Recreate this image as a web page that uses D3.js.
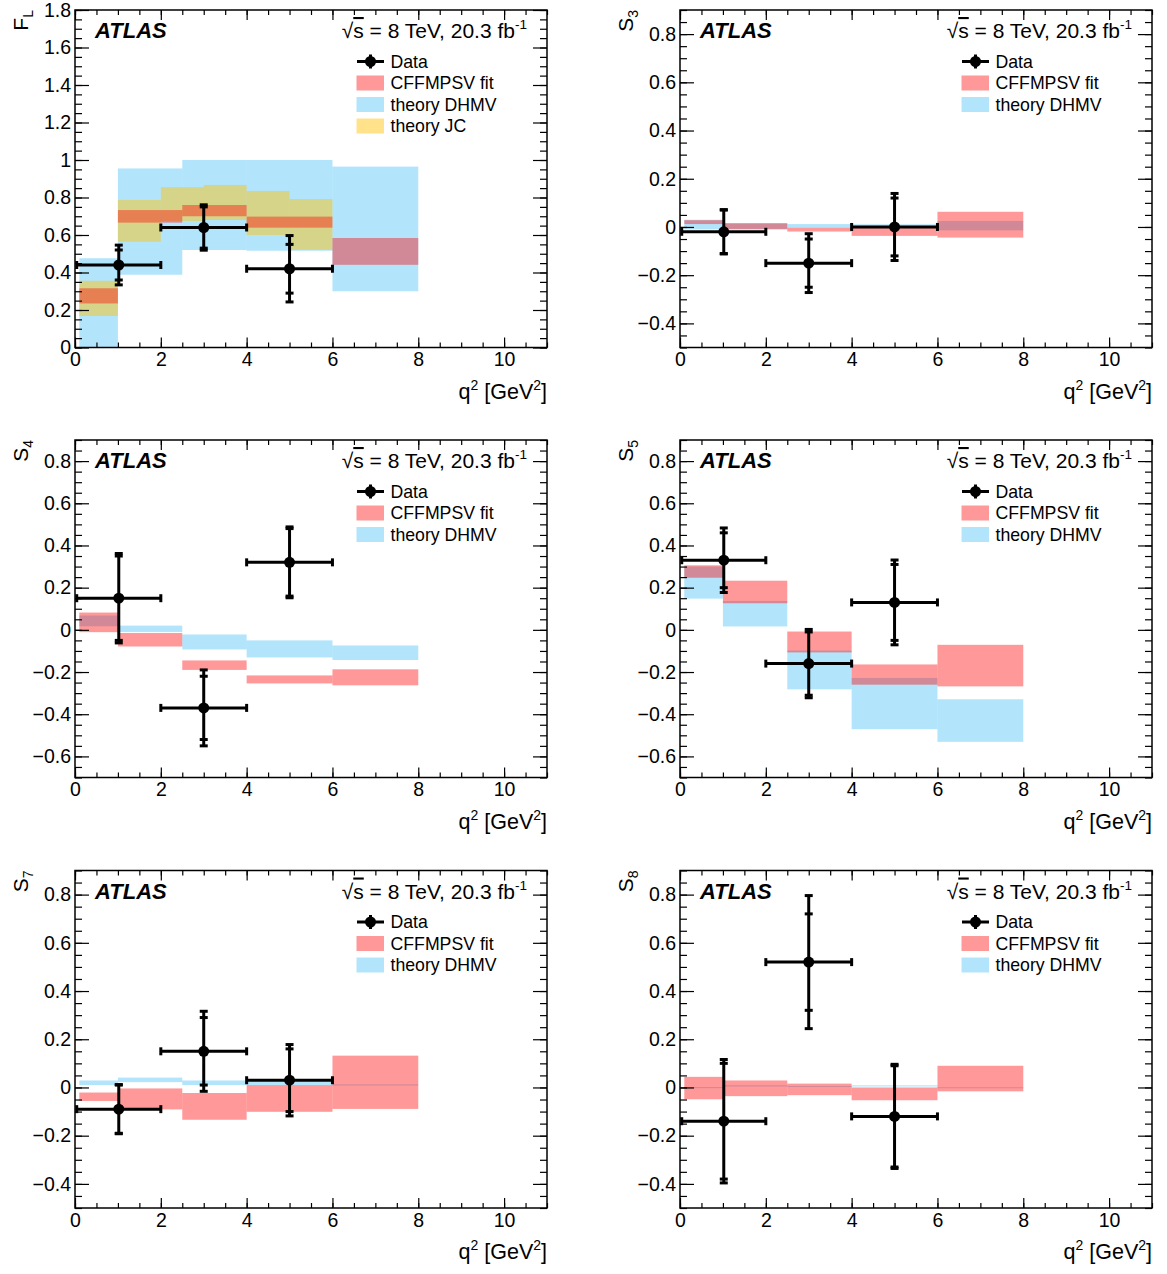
<!DOCTYPE html>
<html>
<head>
<meta charset="utf-8">
<script src="https://cdn.jsdelivr.net/npm/d3@7"></script>
<style>
  body { margin: 0; background: #fff; }
  text { font-family: "Liberation Sans", Arial, Helvetica, sans-serif; }
</style>
</head>
<body>
<svg id="chart" width="1167" height="1274"></svg>
<script>
// q2 binning
var theoryBins = [[0.1, 1], [1, 2.5], [2.5, 4], [4, 6], [6, 8]];
var jcBins = [[0.1, 1], [1, 2], [2, 3], [3, 4], [4, 5], [5, 6]];
var dataBins = [[0.04, 2], [2, 4], [4, 6]];
var dataX = [1.02, 3, 5];

// F_L
var flVal = [0.44, 0.64, 0.42];
var flStat = [0.08, 0.11, 0.13];
var flTot = [0.106, 0.121, 0.177];
var flCff = [[0.235, 0.316], [0.666, 0.733], [0.70, 0.76], [0.639, 0.698], [0.441, 0.584]];
var flDhmv = [[0, 0.476], [0.388, 0.955], [0.52, 1.0], [0.516, 1.0], [0.30, 0.965]];
var flJc = [[0.168, 0.356], [0.564, 0.787], [0.675, 0.855], [0.68, 0.867], [0.60, 0.835], [0.521, 0.792]];

// S3
var s3Val = [-0.02, -0.15, 0.00];
var s3Stat = [0.09, 0.10, 0.12];
var s3Tot = [0.092, 0.122, 0.139];
var s3Cff = [[0.012, 0.028], [-0.01, 0.016], [-0.019, -0.003], [-0.037, -0.004], [-0.044, 0.063]];
var s3Dhmv = [[-0.01, 0.03], [-0.008, 0.014], [-0.003, 0.012], [-0.004, 0.011], [-0.014, 0.025]];

// S4
var s4Val = [0.15, -0.37, 0.32];
var s4Stat = [0.20, 0.15, 0.16];
var s4Tot = [0.212, 0.18, 0.168];
var s4Cff = [[-0.011, 0.082], [-0.079, -0.015], [-0.19, -0.145], [-0.254, -0.216], [-0.263, -0.187]];
var s4Dhmv = [[0.017, 0.068], [-0.01, 0.02], [-0.093, -0.022], [-0.131, -0.05], [-0.143, -0.074]];

// S5
var s5Val = [0.33, -0.16, 0.13];
var s5Stat = [0.13, 0.15, 0.18];
var s5Tot = [0.153, 0.162, 0.201];
var s5Cff = [[0.247, 0.306], [0.126, 0.233], [-0.107, -0.008], [-0.26, -0.164], [-0.268, -0.071]];
var s5Dhmv = [[0.148, 0.30], [0.016, 0.137], [-0.282, -0.098], [-0.471, -0.228], [-0.531, -0.329]];

// S7
var s7Val = [-0.09, 0.15, 0.03];
var s7Stat = [0.10, 0.14, 0.13];
var s7Tot = [0.102, 0.166, 0.148];
var s7Cff = [[-0.056, -0.021], [-0.091, -0.004], [-0.134, -0.023], [-0.101, 0.01], [-0.089, 0.132]];
var s7Dhmv = [[0.01, 0.029], [0.022, 0.041], [0.01, 0.029], [0.01, 0.029], [0.008, 0.013]];

// S8
var s8Val = [-0.14, 0.52, -0.12];
var s8Stat = [0.24, 0.20, 0.21];
var s8Tot = [0.256, 0.276, 0.216];
var s8Cff = [[-0.049, 0.044], [-0.036, 0.029], [-0.032, 0.016], [-0.053, 0.0], [-0.016, 0.09]];
var s8Dhmv = [[-0.003, 0.002], [0.004, 0.009], [0.002, 0.006], [0.004, 0.009], [-0.003, 0.001]];

var xTicks = [0, 2, 4, 6, 8, 10];

var panels = [
  { name: "F", sub: "L", val: flVal, stat: flStat, tot: flTot, cff: flCff, dhmv: flDhmv, jc: flJc, yd: [0, 1.8], col: 0, row: 0 },
  { name: "S", sub: "3", val: s3Val, stat: s3Stat, tot: s3Tot, cff: s3Cff, dhmv: s3Dhmv, yd: [-0.5, 0.9], col: 1, row: 0 },
  { name: "S", sub: "4", val: s4Val, stat: s4Stat, tot: s4Tot, cff: s4Cff, dhmv: s4Dhmv, yd: [-0.7, 0.9], col: 0, row: 1 },
  { name: "S", sub: "5", val: s5Val, stat: s5Stat, tot: s5Tot, cff: s5Cff, dhmv: s5Dhmv, yd: [-0.7, 0.9], col: 1, row: 1 },
  { name: "S", sub: "7", val: s7Val, stat: s7Stat, tot: s7Tot, cff: s7Cff, dhmv: s7Dhmv, yd: [-0.5, 0.9], col: 0, row: 2 },
  { name: "S", sub: "8", val: s8Val, stat: s8Stat, tot: s8Tot, cff: s8Cff, dhmv: s8Dhmv, yd: [-0.5, 0.9], col: 1, row: 2 }
];

var svg = d3.select("#chart");
svg.append("rect").attr("width", 1167).attr("height", 1274).attr("fill", "#fff");

var W = 472, H = 337.5;
var colX = [75, 680], rowY = [10, 440, 870.5];
var FONT = "Liberation Sans, Arial, Helvetica, sans-serif";
var fmt = d3.format("~g");

var colCff = "rgb(255,0,0)", opCff = 0.4;
var colDhmv = "rgb(0,170,245)", opDhmv = 0.3;
var colJc = "rgb(255,192,0)", opJc = 0.46;

function majors(d) {
  var out = [];
  for (var i = Math.ceil(d[0] / 0.2 - 1e-6); i <= Math.floor(d[1] / 0.2 + 1e-6); i++) out.push(+(i * 0.2).toFixed(2));
  return out;
}
function minors(d) {
  var out = [];
  for (var i = Math.round(d[0] / 0.05); i <= Math.round(d[1] / 0.05); i++) out.push(+(i * 0.05).toFixed(3));
  return out;
}

function styleAxis(a, size) {
  a.select(".domain").remove();
  a.attr("font-family", FONT).attr("font-size", size);
  a.selectAll("line").attr("stroke", "#000").attr("stroke-width", 1.2);
  a.selectAll("text").attr("fill", "#000");
}

panels.forEach(function(p, pi) {
  var g = svg.append("g").attr("transform", "translate(" + colX[p.col] + "," + rowY[p.row] + ")");
  var x = d3.scaleLinear().domain([0, 11]).range([0, W]);
  var y = d3.scaleLinear().domain(p.yd).range([H, 0]);

  g.append("clipPath").attr("id", "clip" + pi)
    .append("rect").attr("width", W).attr("height", H);
  var bands = g.append("g").attr("clip-path", "url(#clip" + pi + ")");

  function drawBand(vals, bins, col, op) {
    bands.append("g").selectAll("rect")
      .data(vals)
      .enter().append("rect")
      .attr("x", function(d, i) { return x(bins[i][0]); })
      .attr("width", function(d, i) { return x(bins[i][1]) - x(bins[i][0]); })
      .attr("y", function(d) { return y(d[1]); })
      .attr("height", function(d) { return Math.max(y(d[0]) - y(d[1]), 1); })
      .attr("fill", col)
      .attr("fill-opacity", op);
  }
  drawBand(p.dhmv, theoryBins, colDhmv, opDhmv);
  if (p.jc) drawBand(p.jc, jcBins, colJc, opJc);
  drawBand(p.cff, theoryBins, colCff, opCff);

  // axes, ROOT style: ticks pointing inwards on all four sides
  var ymaj = majors(p.yd), ymin = minors(p.yd);
  var xmin = d3.range(0, 11.01, 0.5);

  styleAxis(g.append("g").call(d3.axisLeft(y).tickValues(ymaj).tickSize(-14).tickPadding(4).tickFormat(fmt)), 19.5);
  styleAxis(g.append("g").call(d3.axisLeft(y).tickValues(ymin).tickSize(-7).tickFormat("")), 10);
  styleAxis(g.append("g").attr("transform", "translate(" + W + ",0)").call(d3.axisRight(y).tickValues(ymaj).tickSize(-14).tickFormat("")), 10);
  styleAxis(g.append("g").attr("transform", "translate(" + W + ",0)").call(d3.axisRight(y).tickValues(ymin).tickSize(-7).tickFormat("")), 10);

  styleAxis(g.append("g").attr("transform", "translate(0," + H + ")").call(d3.axisBottom(x).tickValues(xTicks).tickSize(-10).tickPadding(5).tickFormat(fmt)), 19.5);
  styleAxis(g.append("g").attr("transform", "translate(0," + H + ")").call(d3.axisBottom(x).tickValues(xmin).tickSize(-5).tickFormat("")), 10);
  styleAxis(g.append("g").call(d3.axisTop(x).tickValues(xTicks).tickSize(-10).tickFormat("")), 10);
  styleAxis(g.append("g").call(d3.axisTop(x).tickValues(xmin).tickSize(-5).tickFormat("")), 10);

  g.append("rect").attr("width", W).attr("height", H)
    .attr("fill", "none").attr("stroke", "#000").attr("stroke-width", 1.5);

  // axis titles
  var yt = g.append("text")
    .attr("transform", "translate(-47,0) rotate(-90)")
    .attr("text-anchor", "end")
    .attr("font-size", 21);
  yt.append("tspan").text(p.name);
  yt.append("tspan").attr("font-size", 14).attr("dy", 5).text(p.sub);

  var xt = g.append("text")
    .attr("x", W).attr("y", H + 51)
    .attr("text-anchor", "end")
    .attr("font-size", 21.5);
  xt.append("tspan").text("q");
  xt.append("tspan").attr("font-size", 14).attr("dy", -9).text("2");
  xt.append("tspan").attr("dy", 9).text(" [GeV");
  xt.append("tspan").attr("font-size", 14).attr("dy", -9).text("2");
  xt.append("tspan").attr("dy", 9).text("]");

  // labels
  g.append("text").attr("x", 20).attr("y", 28)
    .attr("font-size", 22).attr("font-weight", "bold").attr("font-style", "italic")
    .text("ATLAS");
  var lum = g.append("text").attr("x", 452).attr("y", 28)
    .attr("text-anchor", "end").attr("font-size", 21);
  lum.append("tspan").text("√");
  lum.append("tspan").style("text-decoration", "overline").text("s");
  lum.append("tspan").text(" = 8 TeV, 20.3 fb");
  lum.append("tspan").attr("font-size", 13.5).attr("dy", -9).text("-1");

  // legend
  var leg = g.append("g");
  var ly0 = 51.5, lstep = 21.5;
  leg.append("line").attr("x1", 282).attr("x2", 309).attr("y1", ly0).attr("y2", ly0)
    .attr("stroke", "#000").attr("stroke-width", 3);
  leg.append("line").attr("x1", 295.5).attr("x2", 295.5).attr("y1", ly0 - 7).attr("y2", ly0 + 7)
    .attr("stroke", "#000").attr("stroke-width", 3);
  leg.append("circle").attr("cx", 295.5).attr("cy", ly0).attr("r", 5.5).attr("fill", "#000");
  var items = [["Data", null, 0]];
  items.push(["CFFMPSV fit", colCff, opCff]);
  items.push(["theory DHMV", colDhmv, opDhmv]);
  if (p.jc) items.push(["theory JC", colJc, opJc]);
  items.forEach(function(it, i) {
    var cy = ly0 + i * lstep;
    if (it[1]) {
      leg.append("rect").attr("x", 281.5).attr("y", cy - 7.5).attr("width", 27.5).attr("height", 15)
        .attr("fill", it[1]).attr("fill-opacity", it[2]);
    }
    leg.append("text").attr("x", 315.5).attr("y", cy).attr("dy", "0.36em")
      .attr("font-size", 17.7).text(it[0]);
  });

  // data points with stat (inner caps) and total (outer caps) errors
  var dg = g.append("g").attr("stroke", "#000").attr("stroke-width", 3);
  dataX.forEach(function(xc, i) {
    var cx = x(xc), cy = y(p.val[i]);
    var xl = x(dataBins[i][0]), xr = x(dataBins[i][1]);
    dg.append("line").attr("x1", xl).attr("x2", xr).attr("y1", cy).attr("y2", cy);
    [xl, xr].forEach(function(xe) {
      dg.append("line").attr("x1", xe).attr("x2", xe).attr("y1", cy - 4).attr("y2", cy + 4);
    });
    var yTop = y(p.val[i] + p.tot[i]), yBot = y(p.val[i] - p.tot[i]);
    dg.append("line").attr("x1", cx).attr("x2", cx).attr("y1", yTop).attr("y2", yBot);
    [p.val[i] + p.tot[i], p.val[i] - p.tot[i], p.val[i] + p.stat[i], p.val[i] - p.stat[i]].forEach(function(v) {
      dg.append("line").attr("x1", cx - 4).attr("x2", cx + 4).attr("y1", y(v)).attr("y2", y(v));
    });
    g.append("circle").attr("cx", cx).attr("cy", cy).attr("r", 5.5).attr("fill", "#000");
  });
});
</script>
</body>
</html>
